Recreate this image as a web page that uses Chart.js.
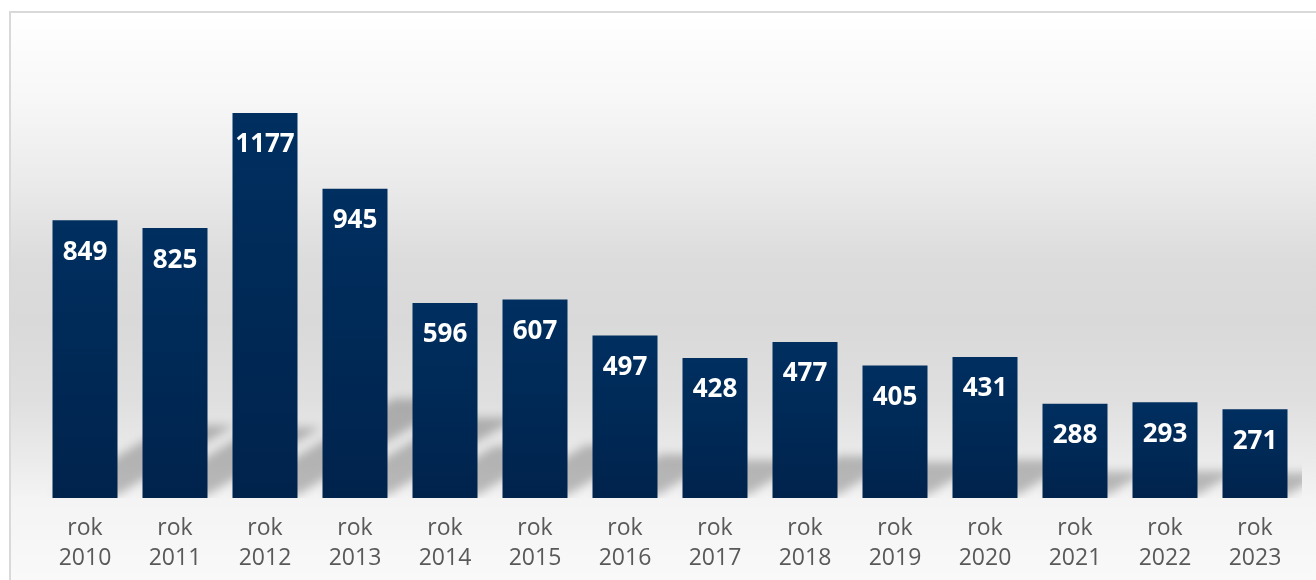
<!DOCTYPE html>
<html>
<head>
<meta charset="utf-8">
<script src="https://cdn.jsdelivr.net/npm/chart.js@4/dist/chart.umd.min.js"></script>
<style>
  html, body { margin: 0; padding: 0; background: #ffffff; }
  #wrap { width: 1316px; height: 580px; position: relative; }
</style>
</head>
<body>
<div id="wrap"><canvas id="c" width="1316" height="580"></canvas></div>
<script>
const labelPrefix = "rok";
const years = ["2010","2011","2012","2013","2014","2015","2016","2017","2018","2019","2020","2021","2022","2023"];
const values = [849, 825, 1177, 945, 596, 607, 497, 428, 477, 405, 431, 288, 293, 271];
const yMax = 1400;

const categories = years.map(y => [labelPrefix, y]);

const bgPlugin = {
  id: 'bg',
  beforeDraw(chart) {
    const ctx = chart.ctx;
    const W = chart.width, H = chart.height;
    ctx.save();
    ctx.fillStyle = '#ffffff';
    ctx.fillRect(0, 0, W, H);
    const g = ctx.createLinearGradient(0, 12, 0, H);
    const stops = [[12,'#ffffff'],[100,'#f7f7f7'],[180,'#ebebeb'],[260,'#dcdcdc'],[320,'#d9d9d9'],[400,'#dfdfdf'],[460,'#ebebeb'],[500,'#f4f4f4'],[580,'#f9f9f9']];
    stops.forEach(s => g.addColorStop((s[0]-12)/(H-12), s[1]));
    ctx.fillStyle = g;
    ctx.fillRect(10, 12, W - 10, H - 12);
    ctx.fillStyle = '#d9d9d9';
    ctx.fillRect(9, 11, W - 9, 2);
    ctx.fillRect(9, 11, 2, H - 11);
    ctx.restore();
  }
};

const shadowPlugin = {
  id: 'barShadow',
  beforeDatasetsDraw(chart) {
    const ctx = chart.ctx;
    const meta = chart.getDatasetMeta(0);
    const area = chart.chartArea;
    ctx.save();
    ctx.beginPath();
    ctx.rect(area.left, area.top, area.right - area.left + 2, area.bottom - area.top);
    ctx.clip();
    ctx.filter = 'blur(5px)';
    ctx.fillStyle = 'rgba(0,0,0,0.24)';
    meta.data.forEach(bar => {
      const x0 = bar.x - bar.width / 2;
      const x1 = bar.x + bar.width / 2;
      const base = bar.base;
      const h = base - bar.y;
      const dy = 0.25 * h;
      const dx = 0.42 * h;
      ctx.beginPath();
      ctx.moveTo(x0, base - 3);
      ctx.lineTo(x1, base - 3);
      ctx.lineTo(x1 + dx, base - 3 - dy);
      ctx.lineTo(x0 + dx, base - 3 - dy);
      ctx.closePath();
      ctx.fill();
    });
    ctx.restore();
  }
};

const valueLabelPlugin = {
  id: 'valueLabels',
  afterDatasetsDraw(chart) {
    const ctx = chart.ctx;
    const meta = chart.getDatasetMeta(0);
    ctx.save();
    ctx.font = 'bold 26px "Open Sans", sans-serif';
    ctx.fillStyle = '#ffffff';
    ctx.textAlign = 'center';
    ctx.textBaseline = 'middle';
    meta.data.forEach((bar, i) => {
      ctx.fillText(String(values[i]), bar.x, bar.y + 32);
    });
    ctx.restore();
  }
};

new Chart(document.getElementById('c'), {
  type: 'bar',
  data: {
    labels: categories,
    datasets: [{
      data: values,
      backgroundColor: (context) => {
        const chart = context.chart;
        const area = chart.chartArea;
        if (!area || !chart.scales.y || context.dataIndex === undefined) return '#002A58';
        const yTop = chart.scales.y.getPixelForValue(values[context.dataIndex]);
        const yBase = chart.scales.y.getPixelForValue(0);
        if (!isFinite(yTop) || !isFinite(yBase) || yBase - yTop < 1) return '#002A58';
        const g = chart.ctx.createLinearGradient(0, yTop, 0, yBase);
        g.addColorStop(0, '#002F60');
        g.addColorStop(1, '#00234C');
        return g;
      },
      borderWidth: 0,
      barPercentage: 65 / 90,
      categoryPercentage: 1.0
    }]
  },
  options: {
    responsive: false,
    animation: false,
    events: [],
    layout: { padding: { left: 40, right: 16, top: 40, bottom: 7 } },
    plugins: {
      legend: { display: false },
      tooltip: { enabled: false },
      title: { display: false }
    },
    scales: {
      x: {
        grid: { display: false, drawTicks: false },
        border: { display: false },
        ticks: {
          color: '#595959',
          font: { family: '"Open Sans", sans-serif', size: 23, lineHeight: 30 / 23 },
          padding: 15,
          maxRotation: 0,
          autoSkip: false
        },
        afterFit(scale) { scale.height = 75; }
      },
      y: {
        display: false,
        min: 0,
        max: yMax
      }
    }
  },
  plugins: [bgPlugin, shadowPlugin, valueLabelPlugin]
});
</script>
</body>
</html>
